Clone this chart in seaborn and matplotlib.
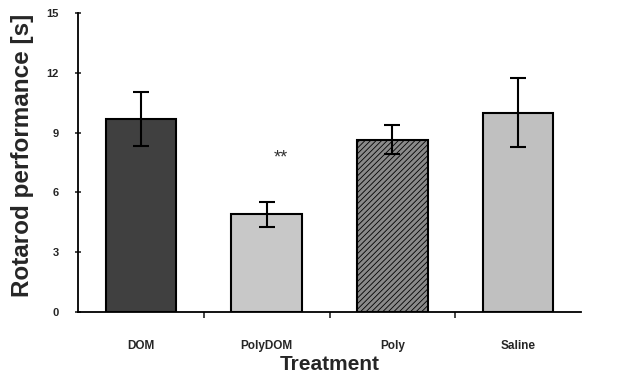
import matplotlib
matplotlib.use("Agg")
import matplotlib.pyplot as plt
import seaborn as sns
import pandas as pd
from matplotlib.ticker import FixedLocator

treatments = ["DOM", "PolyDOM", "Poly", "Saline"]
means = [9.7, 4.9, 8.65, 10.0]
errors = [1.35, 0.62, 0.72, 1.75]
yticks = [0, 3, 6, 9, 12, 15]

sns.set_theme(style="white")
plt.rcParams['font.family'] = ['Liberation Sans', 'DejaVu Sans']
plt.rcParams['hatch.color'] = '#3a3a3a'
plt.rcParams['hatch.linewidth'] = 0.6

df = pd.DataFrame({"Treatment": treatments, "Performance": means})
colors = ["#404040", "#c8c8c8", "#8a8a8a", "#c0c0c0"]

fig = plt.figure(figsize=(6.25, 3.8), dpi=100)
ax = fig.add_axes([0.1248, 0.179, 0.805, 0.787])
sns.barplot(data=df, x="Treatment", y="Performance", hue="Treatment",
            palette=colors, width=0.56, edgecolor="black", linewidth=1.5,
            legend=False, ax=ax)
ax.patches[2].set_hatch("//////")

x = list(range(len(treatments)))
ax.errorbar(x, means, yerr=errors, fmt="none", ecolor="black",
            elinewidth=1.5, capsize=6, capthick=1.5)

ax.text(1.11, 7.7, "**", ha="center", va="center", fontsize=13, color="#333333")

ax.set_ylim(0, 15)
ax.set_xlim(-0.5, 3.5)
ax.set_yticks(yticks)
ax.set_yticklabels([str(t) for t in yticks], fontsize=8, fontweight="bold")
ax.xaxis.set_minor_locator(FixedLocator([0.5, 1.5, 2.5]))
ax.tick_params(axis="x", which="major", length=0, pad=20, labelsize=8.5)
ax.tick_params(axis="x", which="minor", length=4, width=1.2, direction="out", bottom=True)
ax.tick_params(axis="y", length=4, width=1.2, direction="inout", left=True, pad=12)
for lab in ax.get_xticklabels():
    lab.set_fontweight("bold")

ax.set_xlabel("Treatment", fontsize=15, fontweight="bold", labelpad=2)
ax.set_ylabel("Rotarod performance [s]", fontsize=17.5, fontweight="bold")
ax.yaxis.set_label_coords(-0.088, 0.525)

sns.despine(ax=ax)
for s in ["left", "bottom"]:
    ax.spines[s].set_linewidth(1.3)
    ax.spines[s].set_color("black")

fig.savefig("out.png", dpi=100)
